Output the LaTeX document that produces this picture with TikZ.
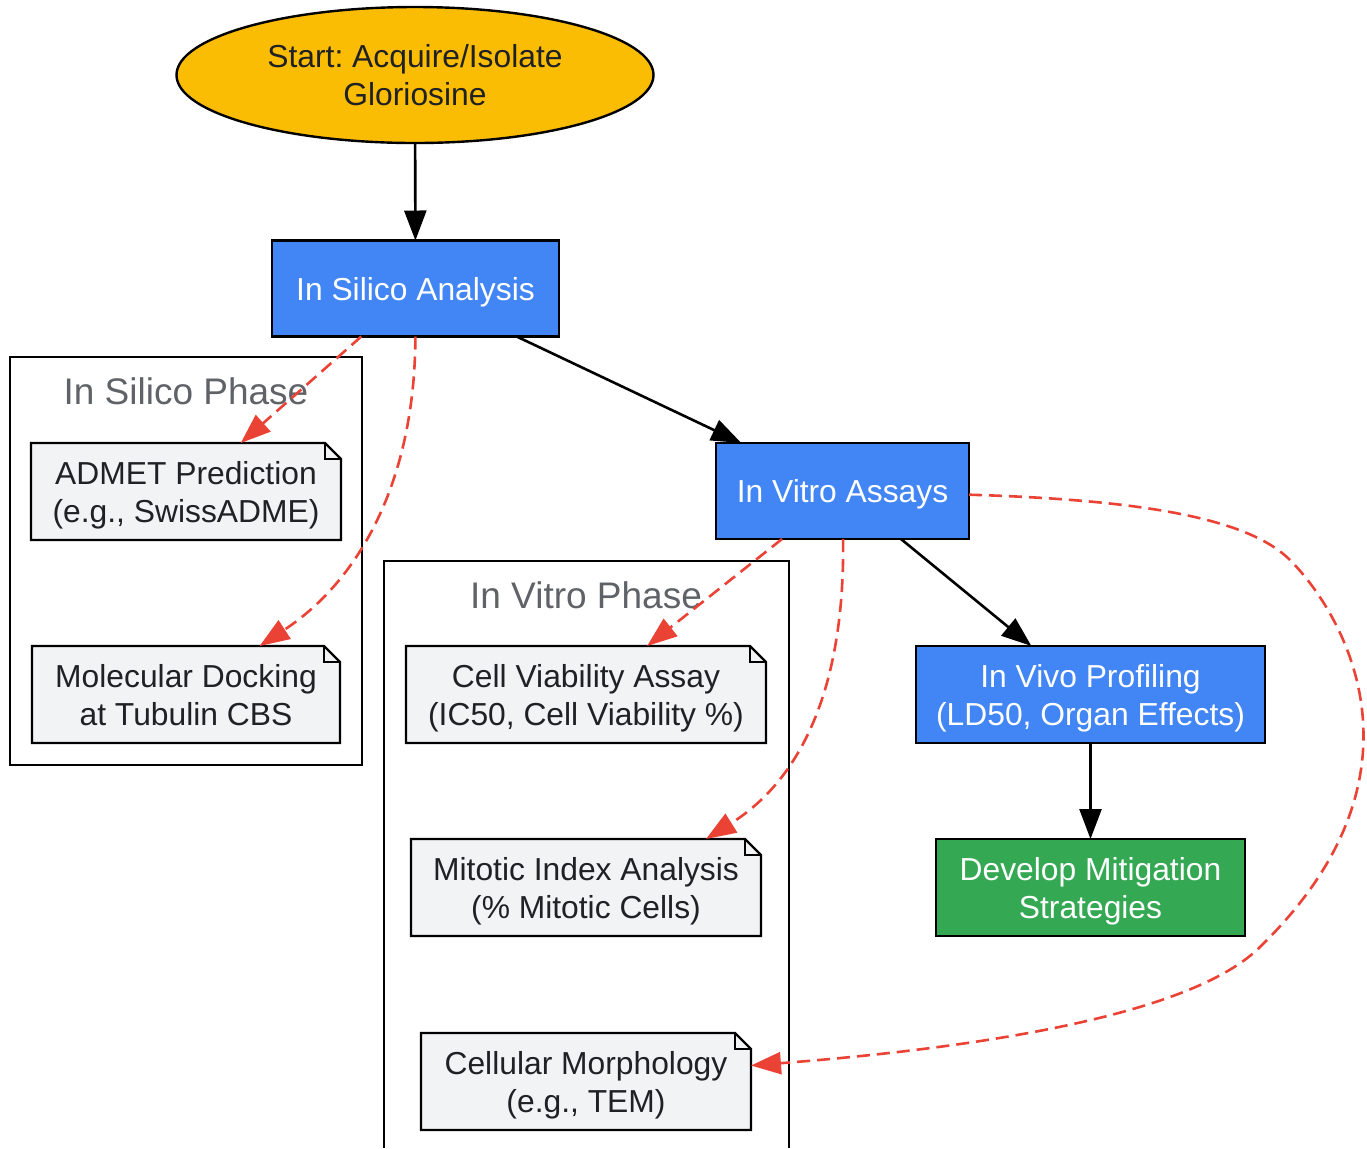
\documentclass[tikz,border=0pt]{standalone}
\usepackage{fontspec}
\setmainfont{Liberation Sans}
\usetikzlibrary{shapes.geometric, arrows.meta, calc}

\definecolor{gblue}{HTML}{4285F4}
\definecolor{gyellow}{HTML}{FBBC04}
\definecolor{ggreen}{HTML}{34A853}
\definecolor{gred}{HTML}{EA4335}
\definecolor{gnote}{HTML}{F1F3F4}
\definecolor{gtext}{HTML}{202124}
\definecolor{glabel}{HTML}{5F6368}

\begin{document}
\frenchspacing
\begin{tikzpicture}[x=0.5pt, y=-0.5pt,
    every node/.style={font=\fontsize{15.9}{19}\selectfont, align=center, inner sep=0pt, outer sep=0pt},
    oneline/.style={text height=13.5pt, text depth=2pt},
    twoline/.style={text height=33pt, text depth=2.5pt},
    stepbox/.style={draw, line width=1.2pt, fill=gblue, text=white, minimum height=48pt},
    startnode/.style={ellipse, draw, line width=1.2pt, fill=gyellow, text=gtext},
    notebox/.style={twoline, fill=gnote, text=gtext, minimum height=48.5pt},
    flow/.style={line width=1.3pt, -{Triangle[length=15pt, width=11pt]}},
    link/.style={line width=1.3pt, gred, dash pattern=on 6.5pt off 3.5pt, -{Triangle[length=15pt, width=11pt]}},
    phase/.style={line width=1.2pt},
    phaselabel/.style={text=glabel, font=\fontsize{18.5}{22}\selectfont, anchor=base}
]
    \useasboundingbox (0,0) rectangle (1367,1148);

    % Phases
    \draw[phase] (10,357) rectangle (362,765);
    \node[phaselabel] (silicolabel) at (186,404) {In Silico Phase};
    \draw[phase] (384,1148) -- (384,561) -- (789,561) -- (789,1148);
    \node[phaselabel] (vitrolabel) at (586,608) {In Vitro Phase};

    % Main steps
    \node[startnode, twoline, minimum width=238.5pt, minimum height=68pt] (start) at (415,75) {Start: Acquire/Isolate\\Gloriosine};
    \node[stepbox, oneline, minimum width=143.5pt] (silico) at (415.5,288.5) {In Silico Analysis};
    \node[stepbox, oneline, minimum width=126.5pt] (vitro) at (842.5,491) {In Vitro Assays};
    \node[stepbox, twoline, minimum width=174.5pt, minimum height=48.5pt] (vivo) at (1090.5,694.5) {In Vivo Profiling\\(LD50, Organ Effects)};
    \node[stepbox, twoline, fill=ggreen, minimum width=154.5pt, minimum height=48.5pt] (mitig) at (1090.5,887.5) {Develop Mitigation\\Strategies};

    % Notes
    \node[notebox, minimum width=155pt] (admet) at (186,491.5) {ADMET Prediction\\(e.g., SwissADME)};
    \node[notebox, minimum width=154pt] (docking) at (186,694.5) {Molecular Docking\\at Tubulin CBS};
    \node[notebox, minimum width=180pt] (viability) at (586,694.5) {Cell Viability Assay\\(IC50, Cell Viability \%)};
    \node[notebox, minimum width=175pt] (mitotic) at (586,887.5) {Mitotic Index Analysis\\(\% Mitotic Cells)};
    \node[notebox, minimum width=165pt] (morph) at (586,1081.5) {Cellular Morphology\\(e.g., TEM)};

    \foreach \n in {admet, docking, viability, mitotic, morph} {
        \fill[white] ($(\n.north east)+(-16,0)$) -- (\n.north east) -- ($(\n.north east)+(0,16)$) -- cycle;
        \draw[line width=1.2pt] (\n.south west) -- (\n.north west) -- ($(\n.north east)+(-16,0)$)
            -- ($(\n.north east)+(0,16)$) -- (\n.south east) -- cycle;
        \draw[line width=1.2pt] ($(\n.north east)+(-16,0)$) -- ($(\n.north east)+(-16,16)$) -- ($(\n.north east)+(0,16)$);
    }

    % Flow
    \draw[flow] (start) -- (silico);
    \draw[flow] (silico) -- (vitro);
    \draw[flow] (vitro) -- (vivo);
    \draw[flow] (vivo) -- (mitig);

    % Links to notes
    \draw[link] (silico) -- (admet);
    \draw[link] (silico) .. controls (415,480) and (360,580) .. (docking);
    \draw[link] (vitro) -- (viability);
    \draw[link] (vitro) .. controls (845,690) and (800,780) .. ($(mitotic.north)+(120,0)$);
    \draw[link] (vitro) .. controls (1150,500) and (1250,520) .. (1290,560)
        .. controls (1340,610) and (1440,770) .. (1262,945)
        .. controls (1190,1020) and (950,1050) .. ($(morph.east)+(0,-16)$);

\end{tikzpicture}
\end{document}
